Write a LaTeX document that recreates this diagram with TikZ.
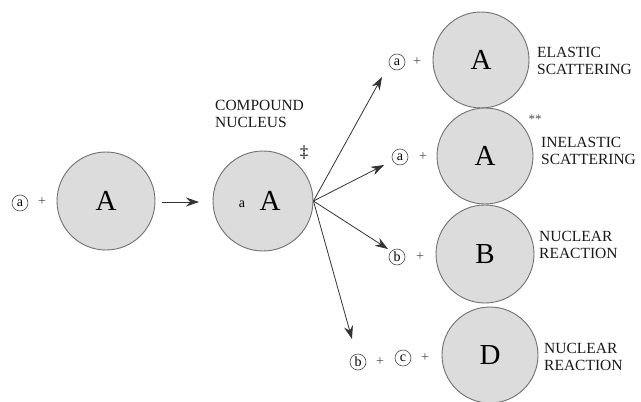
\documentclass[tikz,border=0pt]{standalone}
\usepackage{fontspec}
\setmainfont{Liberation Serif}
\usetikzlibrary{arrows.meta}
\definecolor{nucfill}{HTML}{DCDCDC}
\definecolor{nucline}{HTML}{707070}
\tikzset{
  nuc/.style={circle, draw=nucline, line width=0.9pt, fill=nucfill, inner sep=0pt, minimum size=#1, font=\fontsize{29}{29}\selectfont},
  part/.style={circle, draw=black!70, line width=0.6pt, inner sep=0pt, minimum size=16pt, font=\fontsize{14}{14}\selectfont},
  plus/.style={font=\fontsize{14}{14}\selectfont, text=black!70},
  lab/.style={align=left, anchor=west, font=\fontsize{15.5}{17}\selectfont, text=black!90, inner sep=0pt},
  arr/.style={line width=0.8pt, draw=black!80, -{Stealth[length=13pt,width=9pt]}},
}
\begin{document}
\begin{tikzpicture}[x=1pt,y=-1pt]
\useasboundingbox (0,0) rectangle (641,402);
% left
\node[part] (pa0) at (20,203) {a};
\node[plus] (pl0) at (42,202) {+};
\node[nuc=98pt] (A1) at (106,201) {A};
% compound
\node[nuc=100pt] (CN) at (263,201) {};
\node[font=\fontsize{14}{14}\selectfont] (cna) at (242,204) {a};
\node[font=\fontsize{29}{29}\selectfont] (cnA) at (270,201) {A};
\node[lab] (cnlab) at (215,114) {COMPOUND\\NUCLEUS};
\node[font=\fontsize{17}{17}\selectfont] (dag) at (304,153) {‡};
\draw[arr] (A1) ++(56,1) coordinate (m0) (m0) -- (199,202) coordinate (m1);
% right column
\node[nuc=96pt] (R1) at (481,60) {A};
\node[nuc=96pt] (R2) at (485,156) {A};
\node[nuc=98pt] (R3) at (485,254) {B};
\node[nuc=96pt] (R4) at (490,355) {D};
% products
\node[part] (p1) at (397,62) {a};
\node[plus] (q1) at (417,62) {+};
\node[part] (p2) at (400,157) {a};
\node[plus] (q2) at (423,157) {+};
\node[part] (p3) at (397,257) {b};
\node[plus] (q3) at (420,257) {+};
\node[part] (p4) at (358,362) {b};
\node[plus] (q4) at (380,362) {+};
\node[part] (p5) at (403,358) {c};
\node[plus] (q5) at (425,358) {+};
% labels
\node[lab] (l1) at (537,61) {ELASTIC\\SCATTERING};
\node[font=\fontsize{13}{13}\selectfont, text=black!70] (st) at (535,119) {**};
\node[lab] (l2) at (541,151) {INELASTIC\\SCATTERING};
\node[lab] (l3) at (539,245) {NUCLEAR\\REACTION};
\node[lab] (l4) at (544,357) {NUCLEAR\\REACTION};
% arrows
\coordinate (o) at (CN.east);
\coordinate (t1) at (382,77);
\coordinate (t2) at (384,165);
\coordinate (t3) at (388,249);
\coordinate (t4) at (352,339);
\draw[arr] (o) -- (t1);
\draw[arr] (o) -- (t2);
\draw[arr] (o) -- (t3);
\draw[arr] (o) -- (t4);
\end{tikzpicture}
\end{document}
